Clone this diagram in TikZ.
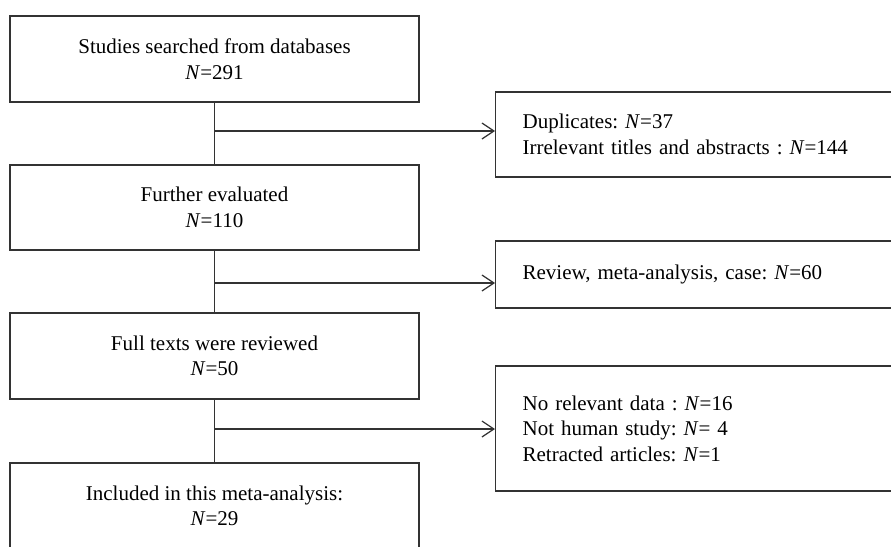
\documentclass[tikz,border=0pt]{standalone}
\usepackage{fontspec}
\setmainfont{Liberation Serif}
\usetikzlibrary{arrows.meta, positioning}
\newcommand{\nN}{\textit{N}}

\begin{document}
\begin{tikzpicture}[x=1pt, y=-1pt,
    font=\fontsize{21}{25.5}\selectfont\frenchspacing,
    mainbox/.style={draw=black!80, line width=1.2pt, minimum width=409pt, minimum height=86pt, align=center, inner sep=0pt},
    sidebox/.style={draw=black!80, line width=1.2pt, anchor=west, text width=351pt, inner xsep=27pt, inner ysep=0pt, align=left},
    flow/.style={draw=black!80, line width=1.2pt},
    outflow/.style={flow, -{Straight Barb[length=12pt, width=16pt]}}]
  \clip (0,0) rectangle (891,546);
  % main column
  \node[mainbox] (searched) at (214.5,59) {Studies searched from databases\\\nN=291};
  \node[mainbox, minimum height=85pt] (further) at (214.5,207.5) {Further evaluated\\\nN=110};
  \node[mainbox] (fulltext) at (214.5,356) {Full texts were reviewed\\\nN=50};
  \node[mainbox] (included) at (214.5,506) {Included in this meta-analysis:\\\nN=29};
  % excluded studies
  \node[sidebox, minimum height=85pt] (dupl) at (495,134.5) {Duplicates: \nN=37\\Irrelevant titles and abstracts : \nN=144};
  \node[sidebox, minimum height=67pt] (review) at (495,274.5) {\raisebox{-5pt}{Review, meta-analysis, case: \nN=60}};
  \node[sidebox, minimum height=125pt] (nodata) at (495,428.5) {No relevant data : \nN=16\\Not human study: \nN= 4\\Retracted articles: \nN=1};
  % branch points
  \coordinate (j1) at (214.5,131);
  \coordinate (j2) at (214.5,283);
  \coordinate (j3) at (214.5,429);
  \draw[flow] (searched) -- (further);
  \draw[flow] (further) -- (fulltext);
  \draw[flow] (fulltext) -- (included);
  \draw[outflow] (j1) -- (j1 -| dupl.west);
  \draw[outflow] (j2) -- (j2 -| review.west);
  \draw[outflow] (j3) -- (j3 -| nodata.west);
\end{tikzpicture}
\end{document}
